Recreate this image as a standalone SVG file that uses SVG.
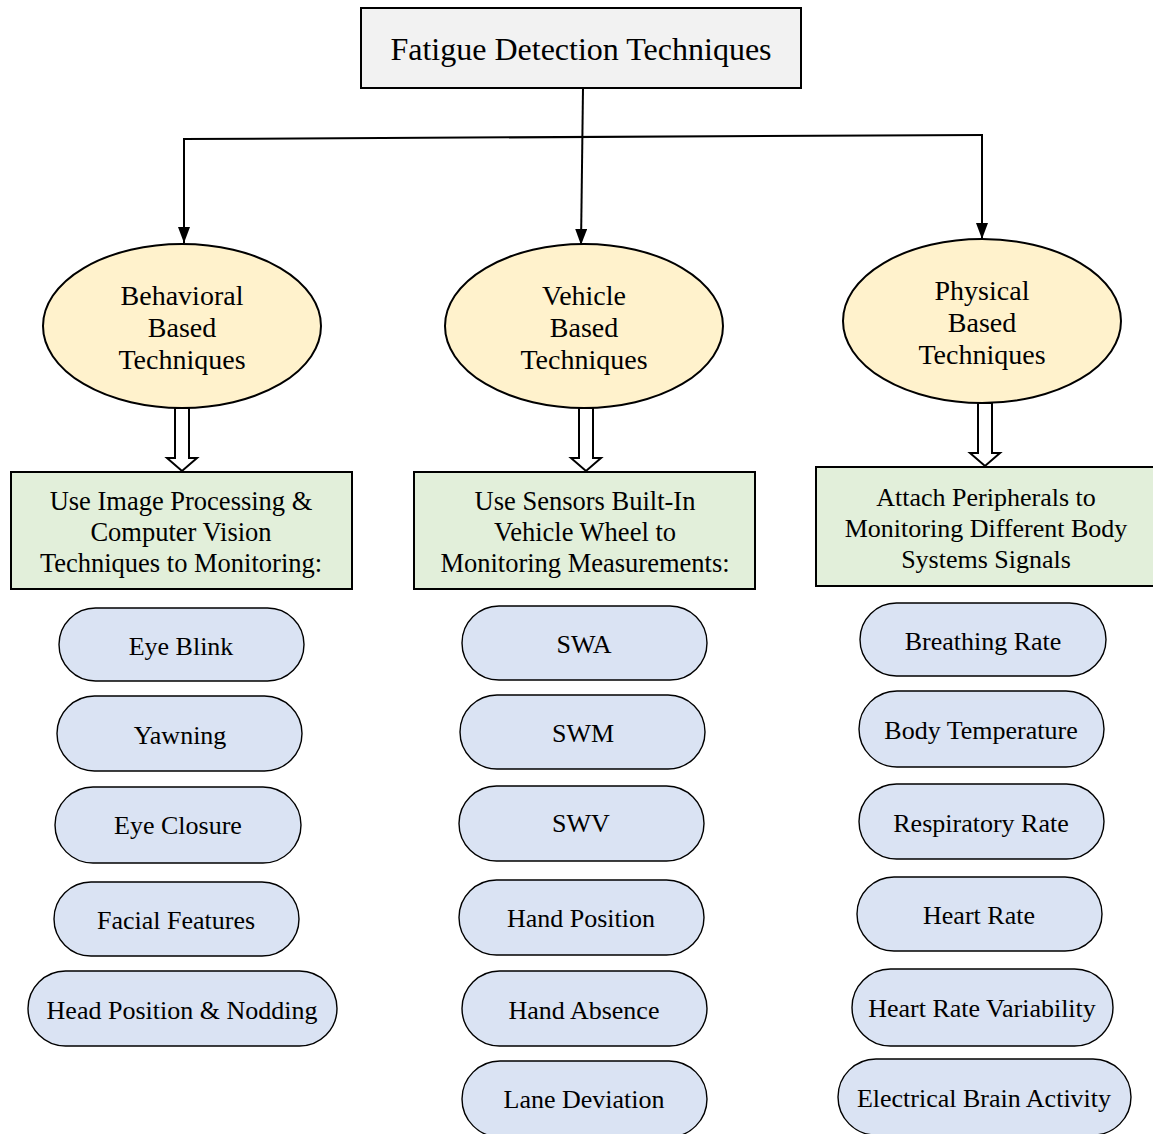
<svg xmlns="http://www.w3.org/2000/svg" width="1153" height="1134" viewBox="0 0 1153 1134">
<defs>
<marker id="ah" viewBox="0 0 16 12" refX="16" refY="6" markerWidth="16" markerHeight="12" markerUnits="userSpaceOnUse" orient="auto">
<path d="M0,0 L16,6 L0,12 Z" fill="#000"/>
</marker>
<style>
text{font-family:"Liberation Serif","Times New Roman",serif;fill:#000;text-anchor:middle;dominant-baseline:central}
.title{fill:#f2f2f2;stroke:#000;stroke-width:2}
.ell{fill:#fff2cc;stroke:#000;stroke-width:2}
.grn{fill:#e2efda;stroke:#000;stroke-width:2}
.pill{fill:#dae3f3;stroke:#000;stroke-width:1.4}
.hollow{fill:#fff;stroke:#000;stroke-width:2;stroke-linejoin:miter}
.conn{stroke:#000;stroke-width:2;fill:none}
.t32{font-size:32px}
.t27{font-size:28px}
.t26{font-size:26.5px}
.t25{font-size:26px}
.p26{font-size:26px}
</style>
</defs>
<rect width="1153" height="1134" fill="#fff"/>

<g id="connectors">
<line class="conn" x1="583" y1="88" x2="581" y2="245" marker-end="url(#ah)"/>
<line class="conn" x1="183" y1="139" x2="983" y2="135"/>
<line class="conn" x1="184" y1="139" x2="184" y2="243" marker-end="url(#ah)"/>
<line class="conn" x1="982" y1="135" x2="982" y2="239" marker-end="url(#ah)"/>
<polygon class="hollow" points="175,408 189,408 189,458 197,458 182,471 167,458 175,458"/>
<polygon class="hollow" points="579,408 593,408 593,458 601,458 586,471 571,458 579,458"/>
<polygon class="hollow" points="978,403 992,403 992,453 1000,453 985,466 970,453 978,453"/>
</g>

<g id="root">
<rect class="title" x="361" y="8" width="440" height="80"/>
<text class="t32" x="581" y="49">Fatigue Detection Techniques</text>
</g>

<g id="behavioral">
<ellipse class="ell" cx="182" cy="326" rx="139" ry="82"/>
<text class="t27" x="182" y="295">Behavioral</text>
<text class="t27" x="182" y="327">Based</text>
<text class="t27" x="182" y="359">Techniques</text>
</g>
<g id="vehicle">
<ellipse class="ell" cx="584" cy="326" rx="139" ry="82"/>
<text class="t27" x="584" y="295">Vehicle</text>
<text class="t27" x="584" y="327">Based</text>
<text class="t27" x="584" y="359">Techniques</text>
</g>
<g id="physical">
<ellipse class="ell" cx="982" cy="321" rx="139" ry="82"/>
<text class="t27" x="982" y="290">Physical</text>
<text class="t27" x="982" y="322">Based</text>
<text class="t27" x="982" y="354">Techniques</text>
</g>

<g id="behavioral-method">
<rect class="grn" x="11" y="472" width="341" height="117"/>
<text class="t26" x="181" y="501">Use Image Processing &amp;</text>
<text class="t26" x="181" y="532">Computer Vision</text>
<text class="t26" x="181" y="563">Techniques to Monitoring:</text>
</g>
<g id="vehicle-method">
<rect class="grn" x="414" y="472" width="341" height="117"/>
<text class="t26" x="585" y="501">Use Sensors Built-In</text>
<text class="t26" x="585" y="532">Vehicle Wheel to</text>
<text class="t26" x="585" y="563">Monitoring Measurements:</text>
</g>
<g id="physical-method">
<rect class="grn" x="816" y="467" width="340" height="119"/>
<text class="t25" x="986" y="497">Attach Peripherals to</text>
<text class="t25" x="986" y="528">Monitoring Different Body</text>
<text class="t25" x="986" y="559">Systems Signals</text>
</g>

<g id="eye-blink"><rect class="pill" x="59" y="608" width="245" height="73" rx="36.5"/><text class="p26" x="181" y="646">Eye Blink</text></g>
<g id="yawning"><rect class="pill" x="57" y="696" width="245" height="75" rx="37.5"/><text class="p26" x="180" y="735">Yawning</text></g>
<g id="eye-closure"><rect class="pill" x="55" y="787" width="246" height="76" rx="38"/><text class="p26" x="178" y="825">Eye Closure</text></g>
<g id="facial-features"><rect class="pill" x="54" y="882" width="245" height="74" rx="37"/><text class="p26" x="176" y="920">Facial Features</text></g>
<g id="head-position"><rect class="pill" x="28" y="971" width="309" height="75" rx="37.5"/><text class="p26" x="182" y="1010">Head Position &amp; Nodding</text></g>

<g id="swa"><rect class="pill" x="462" y="606" width="245" height="74" rx="37"/><text class="p26" x="584" y="644">SWA</text></g>
<g id="swm"><rect class="pill" x="460" y="695" width="245" height="74" rx="37"/><text class="p26" x="583" y="733">SWM</text></g>
<g id="swv"><rect class="pill" x="459" y="786" width="245" height="75" rx="37.5"/><text class="p26" x="581" y="823">SWV</text></g>
<g id="hand-position"><rect class="pill" x="459" y="880" width="245" height="75" rx="37.5"/><text class="p26" x="581" y="918">Hand Position</text></g>
<g id="hand-absence"><rect class="pill" x="462" y="971" width="245" height="75" rx="37.5"/><text class="p26" x="584" y="1010">Hand Absence</text></g>
<g id="lane-deviation"><rect class="pill" x="462" y="1061" width="245" height="76" rx="38"/><text class="p26" x="584" y="1099">Lane Deviation</text></g>

<g id="breathing-rate"><rect class="pill" x="860" y="603" width="246" height="73" rx="36.5"/><text class="p26" x="983" y="641">Breathing Rate</text></g>
<g id="body-temperature"><rect class="pill" x="859" y="691" width="245" height="76" rx="38"/><text class="p26" x="981" y="730">Body Temperature</text></g>
<g id="respiratory-rate"><rect class="pill" x="859" y="784" width="245" height="75" rx="37.5"/><text class="p26" x="981" y="823">Respiratory Rate</text></g>
<g id="heart-rate"><rect class="pill" x="857" y="877" width="245" height="74" rx="37"/><text class="p26" x="979" y="915">Heart Rate</text></g>
<g id="hrv"><rect class="pill" x="852" y="969" width="261" height="77" rx="38.5"/><text class="p26" x="982" y="1008">Heart Rate Variability</text></g>
<g id="brain-activity"><rect class="pill" x="838" y="1059" width="293" height="76" rx="38"/><text class="p26" x="984" y="1098">Electrical Brain Activity</text></g>
</svg>
